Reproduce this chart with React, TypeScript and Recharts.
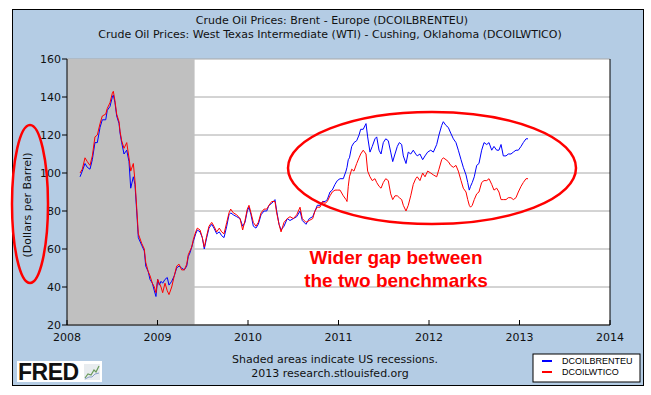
import {
  LineChart,
  Line,
  XAxis,
  YAxis,
  CartesianGrid,
  ReferenceArea,
  ReferenceLine,
} from "recharts";

// weekly-ish observations, decimal years
const dates = [
  2008.144, 2008.169, 2008.199, 2008.224, 2008.254, 2008.28, 2008.309, 2008.335, 2008.365, 2008.39,
  2008.428, 2008.445, 2008.475, 2008.501, 2008.512, 2008.53, 2008.549, 2008.575, 2008.586, 2008.604,
  2008.63, 2008.66, 2008.685, 2008.704, 2008.733, 2008.751, 2008.77, 2008.788, 2008.825, 2008.854,
  2008.87, 2008.898, 2008.917, 2008.943, 2008.965, 2008.983,
  2009.002, 2009.02, 2009.039, 2009.057, 2009.083, 2009.108, 2009.127, 2009.157, 2009.186, 2009.212,
  2009.238, 2009.267, 2009.296, 2009.323, 2009.34, 2009.359, 2009.378, 2009.396, 2009.422, 2009.44,
  2009.47, 2009.495, 2009.517, 2009.544, 2009.569, 2009.599, 2009.624, 2009.654, 2009.683, 2009.709,
  2009.735, 2009.765, 2009.79, 2009.809, 2009.838, 2009.875, 2009.912, 2009.941, 2009.967, 2009.992,
  2010.011, 2010.033, 2010.059, 2010.088, 2010.114, 2010.144, 2010.177, 2010.207, 2010.232, 2010.262,
  2010.298, 2010.317, 2010.343, 2010.365, 2010.398, 2010.434, 2010.464, 2010.501, 2010.538, 2010.575,
  2010.6, 2010.641, 2010.677, 2010.715, 2010.74, 2010.766, 2010.796, 2010.825, 2010.851, 2010.876,
  2010.906, 2010.931, 2010.961, 2010.987,
  2011.017, 2011.053, 2011.083, 2011.094, 2011.108, 2011.121, 2011.146, 2011.171, 2011.201, 2011.227,
  2011.245, 2011.273, 2011.304, 2011.322, 2011.348, 2011.373, 2011.403, 2011.422, 2011.448, 2011.47,
  2011.495, 2011.522, 2011.55, 2011.577, 2011.599, 2011.624, 2011.65, 2011.672, 2011.698, 2011.716,
  2011.746, 2011.771, 2011.798, 2011.826, 2011.853, 2011.87, 2011.9, 2011.93, 2011.956, 2011.985,
  2012.019, 2012.048, 2012.085, 2012.11, 2012.14, 2012.158, 2012.188, 2012.213, 2012.24, 2012.269,
  2012.298, 2012.324, 2012.354, 2012.379, 2012.409, 2012.428, 2012.445, 2012.459, 2012.478, 2012.5,
  2012.527, 2012.552, 2012.582, 2012.608, 2012.638, 2012.663, 2012.693, 2012.718, 2012.748, 2012.773,
  2012.796, 2012.821, 2012.851, 2012.876, 2012.906, 2012.932, 2012.961, 2012.987,
  2013.017, 2013.042, 2013.072, 2013.094,
];

// DCOILBRENTEU
const brent = [
  98, 101, 105, 103, 102, 107, 116, 116, 124, 128, 128, 133, 135, 140, 141, 137, 130, 126, 121, 116,
  110, 112, 106, 92, 98, 94, 80, 66, 62, 59, 51, 48, 44, 42, 38, 35,
  44, 41, 43, 42, 44, 45, 41, 43, 46, 50, 51, 50, 49, 51, 56, 58, 61, 64, 68, 70,
  69, 66, 60, 66, 71, 73, 71, 68, 69, 67, 66, 72, 78, 79, 78, 77, 76, 72, 74, 80,
  82, 78, 72, 71, 73, 78, 80, 80, 83, 84, 86, 80, 73, 70, 72, 76, 75, 76, 77, 80,
  75, 73, 76, 77, 80, 83, 83, 85, 85, 86, 90, 91, 94, 96,
  97, 97, 101, 103, 107, 108, 114, 116, 117, 120, 123, 123, 126, 119, 111, 114, 118, 119, 112, 110,
  116, 118, 117, 111, 106, 110, 114, 116, 115, 109, 105, 111, 110, 112, 110, 109, 110, 107, 109, 111,
  112, 111, 115, 120, 125, 127, 125, 124, 121, 118, 116, 112, 107, 103, 99, 95, 91, 93, 95, 98,
  104, 105, 112, 116, 115, 116, 112, 114, 112, 112, 115, 109, 109, 110, 110, 111, 112, 112,
  114, 116, 118, 118,
];

// DCOILWTICO
const wti = [
  100, 102, 108, 106, 104, 109, 119, 120, 126, 130, 131, 134, 137, 142, 143, 138, 131, 127, 122, 117,
  113, 116, 108, 101, 105, 96, 82, 68, 63, 60, 53, 48, 46, 42, 40, 37,
  44, 42, 40, 37, 42, 38, 36, 40, 46, 51, 52, 49, 49, 52, 57, 59, 61, 65, 69, 71,
  70, 66, 61, 67, 72, 74, 72, 69, 71, 69, 68, 74, 79, 81, 79, 78, 76, 70, 75, 81,
  83, 79, 74, 72, 74, 79, 81, 81, 83, 85, 85, 79, 73, 69, 74, 76, 77, 76, 78, 82,
  76, 74, 75, 76, 80, 82, 82, 85, 84, 85, 88, 90, 91, 91,
  91, 88, 86, 85, 93, 98, 102, 101, 105, 108, 110, 112, 110, 101, 98, 96, 97, 95, 93, 92,
  95, 97, 96, 89, 86, 88, 88, 87, 86, 83, 80, 83, 88, 94, 97, 98, 96, 100, 98, 101,
  100, 99, 98, 102, 107, 108, 107, 106, 104, 103, 104, 101, 96, 92, 90, 86, 83, 82, 83, 86,
  89, 90, 95, 96, 96, 97, 94, 91, 92, 90, 86, 86, 86, 87, 87, 86, 87, 90,
  93, 95, 97, 97,
];

const yearTicks = [2008, 2009, 2010, 2011, 2012, 2013, 2014];
const priceTicks = [20, 40, 60, 80, 100, 120, 140, 160];
const recession = [2008, 2009.41];

const titleLines = [
  "Crude Oil Prices: Brent - Europe (DCOILBRENTEU)",
  "Crude Oil Prices: West Texas Intermediate (WTI) - Cushing, Oklahoma (DCOILWTICO)",
];
const noteLines = ["Shaded areas indicate US recessions.", "2013 research.stlouisfed.org"];
const annotationLines = ["Wider gap between", "the two benchmarks"];

const data = dates.map((t, i) => ({ t, brent: brent[i], wti: wti[i] }));

const FONT = "'DejaVu Sans', Verdana, sans-serif";

export default function App() {
  return (
    <div
      style={{
        position: "fixed",
        left: 0,
        top: 0,
        width: 651,
        height: 395,
        background: "#fff",
        fontFamily: FONT,
      }}
    >
      {/* blue FRED panel */}
      <div
        style={{
          position: "absolute",
          left: 12,
          top: 9,
          width: 632,
          height: 377,
          boxSizing: "border-box",
          border: "1px solid #000",
          background: "#b4cce4",
        }}
      />

      <div style={{ position: "absolute", left: 0, top: 0 }}>
        <LineChart
          width={651}
          height={395}
          data={data}
          margin={{ top: 59, right: 41, left: 27, bottom: 40 }}
        >
          <CartesianGrid vertical={false} stroke="#a8a8a8" fill="#fff" />
          <ReferenceArea
            x1={recession[0]}
            x2={recession[1]}
            fill="#c0c0c0"
            fillOpacity={1}
            stroke="none"
          />
          <XAxis
            dataKey="t"
            type="number"
            domain={[2008, 2014]}
            ticks={yearTicks}
            allowDataOverflow
            height={30}
            tickSize={-5}
            tickMargin={13}
            stroke="#000"
            tick={{ fill: "#111", fontSize: 11, fontFamily: FONT }}
          />
          <YAxis
            type="number"
            domain={[20, 160]}
            ticks={priceTicks}
            width={40}
            tickSize={5}
            tickMargin={1}
            stroke="#000"
            tick={{ fill: "#111", fontSize: 11, fontFamily: FONT }}
          />
          <ReferenceLine x={2014} stroke="#000" />
          <Line
            dataKey="brent"
            stroke="#0000ff"
            strokeWidth={1}
            dot={false}
            isAnimationActive={false}
          />
          <Line
            dataKey="wti"
            stroke="#ff0000"
            strokeWidth={1}
            dot={false}
            isAnimationActive={false}
          />
        </LineChart>
      </div>

      {/* titles, notes, annotations */}
      <svg
        width={651}
        height={395}
        style={{ position: "absolute", left: 0, top: 0, pointerEvents: "none" }}
      >
        <g fontFamily={FONT} fontSize={11} fill="#111" textAnchor="middle">
          <text x={332} y={24}>{titleLines[0]}</text>
          <text x={330} y={38}>{titleLines[1]}</text>
          <text x={335} y={363}>{noteLines[0]}</text>
          <text x={330} y={377}>{noteLines[1]}</text>
        </g>
        <text
          x={0}
          y={0}
          transform="translate(31,205) rotate(-90)"
          fontFamily={FONT}
          fontSize={11}
          fill="#111"
          textAnchor="middle"
        >
          (Dollars per Barrel)
        </text>

        {/* annotation ellipses */}
        <ellipse cx={30} cy={204} rx={18} ry={79} fill="none" stroke="#f00" strokeWidth={2.5} />
        <ellipse cx={432} cy={168} rx={144} ry={56} fill="none" stroke="#f00" strokeWidth={2.5} />
        <g
          fontFamily="'Liberation Sans', Arial, sans-serif"
          fontSize={19}
          fontWeight="bold"
          fill="#f00"
          textAnchor="middle"
        >
          <text x={396} y={264}>{annotationLines[0]}</text>
          <text x={396} y={287}>{annotationLines[1]}</text>
        </g>

        {/* legend */}
        <rect x={533} y={354} width={107} height={28} fill="#fff" stroke="#000" />
        <line x1={542} x2={552} y1={361} y2={361} stroke="#0000ff" strokeWidth={2} />
        <line x1={542} x2={552} y1={372} y2={372} stroke="#ff0000" strokeWidth={2} />
        <g fontFamily="'Liberation Sans', Arial, sans-serif" fontSize={9} fill="#000">
          <text x={562} y={364}>DCOILBRENTEU</text>
          <text x={562} y={375}>DCOILWTICO</text>
        </g>

        {/* FRED logo */}
        <rect x={17} y={361} width={85} height={21} fill="#fff" />
        <text
          x={18}
          y={380}
          fontFamily="'Liberation Sans', Arial, sans-serif"
          fontWeight="bold"
          fontSize={23}
          fill="#111"
          letterSpacing={-0.5}
        >
          FRED
        </text>
        <rect x={84} y={364} width={16} height={16} fill="#e8ecef" />
        <polyline
          points="85,378 88,374 91,375 94,370 96,372 99,366"
          fill="none"
          stroke="#6a9a5a"
          strokeWidth={1.2}
        />
        <polyline
          points="85,379 89,377 92,377 95,374 99,373"
          fill="none"
          stroke="#8aa0c8"
          strokeWidth={1}
        />
      </svg>
    </div>
  );
}
